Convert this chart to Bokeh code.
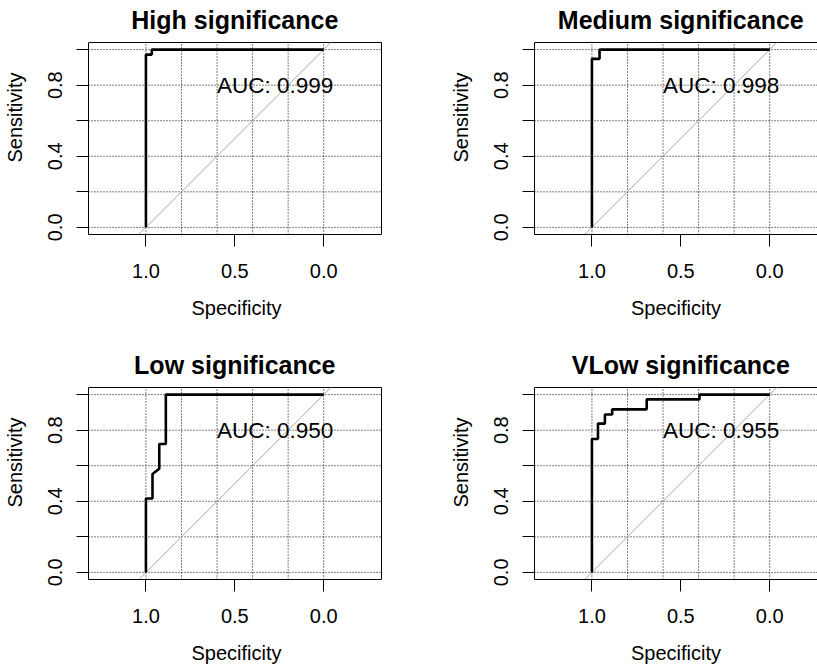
from bokeh.plotting import figure
from bokeh.layouts import column, row
from bokeh.models import Range1d, FixedTicker, PrintfTickFormatter
from bokeh.core.properties import value
from bokeh.embed import file_html
from bokeh.resources import INLINE

# ---- data ----
titles = ["High significance", "Medium significance", "Low significance", "VLow significance"]
auc_labels = ["AUC: 0.999", "AUC: 0.998", "AUC: 0.950", "AUC: 0.955"]

high_spec = [1.0, 1.0, 0.967, 0.967, 0.0]
high_sens = [0.0, 0.972, 0.972, 1.0, 1.0]

medium_spec = [1.0, 1.0, 0.957, 0.957, 0.0]
medium_sens = [0.0, 0.948, 0.948, 1.0, 1.0]

low_spec = [1.0, 1.0, 0.963, 0.963, 0.925, 0.925, 0.888, 0.888, 0.0]
low_sens = [0.0, 0.416, 0.416, 0.553, 0.583, 0.722, 0.722, 1.0, 1.0]

vlow_spec = [1.0, 1.0, 0.966, 0.966, 0.927, 0.927, 0.886, 0.886, 0.692, 0.692, 0.395, 0.395, 0.0]
vlow_sens = [0.0, 0.750, 0.750, 0.837, 0.837, 0.888, 0.888, 0.917, 0.917, 0.973, 0.973, 1.0, 1.0]

x_ticks = [1.0, 0.5, 0.0]
y_major_ticks = [0.0, 0.4, 0.8]
y_minor_ticks = [0.2, 0.6, 1.0]
grid_ticks = [0.0, 0.2, 0.4, 0.6, 0.8, 1.0]
auc_x, auc_y = 0.6, 0.8

FONT = "Liberation Sans"
Y_LO, Y_HI = -0.04, 1.04          # plot box (R usr) limits in y
X_LEFT = 1.323                     # plot box left limit in x (reversed axis)
BOX_H = 192                        # px
BOX_W = 293                        # px
PX = BOX_H / (Y_HI - Y_LO)         # px per data unit
TOP_PAD = 42                       # px between figure top and box top
TITLE_RISE = 23                    # px from box top to title baseline
BORDER_LEFT = 88


def make_panel(title, spec, sens, auc, left_col, top_row):
    width = 446 if left_col else 371
    height = 345 if top_row else 323
    frame_w = 296 if left_col else width - BORDER_LEFT
    frame_h = TOP_PAD + BOX_H
    x_end = X_LEFT - frame_w / PX
    box_right = X_LEFT - BOX_W / PX if left_col else x_end
    y_top = Y_HI + TOP_PAD / PX

    p = figure(width=width, height=height, output_backend="svg", toolbar_location=None,
               x_range=Range1d(X_LEFT, x_end), y_range=Range1d(Y_LO, y_top),
               min_border_left=BORDER_LEFT, min_border_right=width - BORDER_LEFT - frame_w,
               min_border_top=0, min_border_bottom=height - frame_h,
               background_fill_color="white", border_fill_color="white",
               outline_line_color=None)
    p.title.text = ""
    p.xgrid.visible = False
    p.ygrid.visible = False

    # dotted grid, limited to the plot box
    n = len(grid_ticks)
    p.segment(x0=grid_ticks, x1=grid_ticks, y0=[Y_LO] * n, y1=[Y_HI] * n,
              line_color="black", line_dash="1 2", line_width=1)
    p.segment(x0=[X_LEFT] * n, x1=[box_right] * n, y0=grid_ticks, y1=grid_ticks,
              line_color="black", line_dash="1 2", line_width=1)

    # axes
    p.xaxis.ticker = FixedTicker(ticks=x_ticks)
    p.yaxis.ticker = FixedTicker(ticks=y_major_ticks, minor_ticks=y_minor_ticks)
    p.xaxis.bounds = (min(box_right, X_LEFT), max(box_right, X_LEFT))
    p.yaxis.bounds = (Y_LO, Y_HI)
    for ax in (p.xaxis, p.yaxis):
        ax.formatter = PrintfTickFormatter(format="%.1f")
        ax.major_tick_out = 12
        ax.major_tick_in = 0
        ax.minor_tick_out = 12
        ax.minor_tick_in = 0
        ax.major_tick_line_color = "black"
        ax.minor_tick_line_color = "black"
        ax.axis_line_color = "black"
        ax.major_label_text_font = FONT
        ax.major_label_text_font_size = "20px"
        ax.major_label_text_color = "black"
        ax.axis_label_text_font = FONT
        ax.axis_label_text_font_size = "20px"
        ax.axis_label_text_font_style = "normal"
        ax.axis_label_text_color = "black"
    p.xaxis.minor_tick_line_color = None
    p.xaxis.axis_label = "Specificity"
    p.yaxis.axis_label = "Sensitivity"
    p.xaxis.major_label_standoff = 17
    p.xaxis.axis_label_standoff = 16
    p.yaxis.major_label_orientation = "vertical"
    p.yaxis.major_label_standoff = 14
    p.yaxis.axis_label_standoff = 20

    # box: top edge, and right edge where visible
    p.segment(x0=[X_LEFT], x1=[box_right], y0=[Y_HI], y1=[Y_HI], line_color="black", line_width=1)
    if left_col:
        p.segment(x0=[box_right], x1=[box_right], y0=[Y_LO], y1=[Y_HI], line_color="black", line_width=1)

    # identity line across the box
    p.line([1 - Y_LO, 1 - Y_HI], [Y_LO, Y_HI], line_color="#a9a9a9", line_width=1)
    # ROC curve
    p.line(spec, sens, line_color="black", line_width=2.6)
    # AUC text
    p.text(x=[auc_x], y=[auc_y], text=[auc], text_font=value(FONT), text_font_size="22.5px",
           text_align="left", text_baseline="middle", text_color="black")
    # title
    p.text(x=[0.5], y=[Y_HI + TITLE_RISE / PX], text=[title], text_font=value(FONT),
           text_font_size="25px", text_font_style="bold", text_align="center",
           text_baseline="alphabetic", text_color="black")
    return p


p1 = make_panel(titles[0], high_spec, high_sens, auc_labels[0], True, True)
p2 = make_panel(titles[1], medium_spec, medium_sens, auc_labels[1], False, True)
p3 = make_panel(titles[2], low_spec, low_sens, auc_labels[2], True, False)
p4 = make_panel(titles[3], vlow_spec, vlow_sens, auc_labels[3], False, False)

layout = column(row(p1, p2), row(p3, p4))
open("out.html", "w").write(file_html(layout, INLINE))
